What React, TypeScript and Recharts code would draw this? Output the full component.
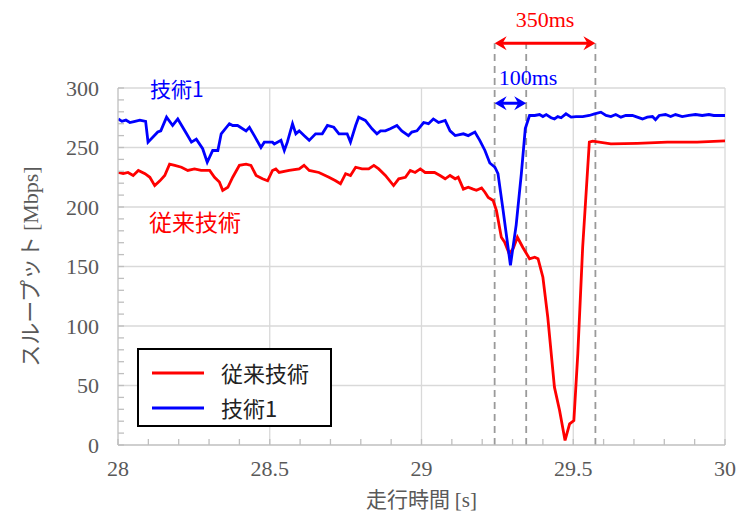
import { LineChart, Line, XAxis, YAxis, ReferenceLine, Legend } from 'recharts'

const SERIF = '"Liberation Serif", "Times New Roman", serif'
const JP = '"Noto Sans CJK JP", "Noto Sans", sans-serif'

// [time s, throughput Mbps]
const conventional: [number, number][] = [
  [28.001,229],[28.017,228],[28.033,229],[28.050,226.5],[28.067,230.7],[28.089,228],[28.105,225],[28.121,218],[28.138,222],[28.154,226.5],
  [28.170,236],[28.187,235],[28.209,233.4],[28.230,230.7],[28.252,232],[28.274,230.7],[28.302,230.7],[28.318,225],[28.334,221],[28.345,214],
  [28.362,216.6],[28.378,225],[28.400,235],[28.422,236],[28.438,235],[28.455,226.5],[28.476,223.7],[28.493,222],[28.509,230.7],[28.520,232],
  [28.531,229],[28.564,230.7],[28.597,232],[28.613,235],[28.630,230.7],[28.662,229],[28.695,225],[28.717,222],[28.733,219.5],[28.750,228],
  [28.766,226.5],[28.783,233.4],[28.804,232],[28.826,232],[28.843,235],[28.859,232],[28.881,226.5],[28.908,218],[28.925,223.7],[28.947,225],
  [28.963,230.7],[28.979,229],[28.996,232],[29.012,229],[29.043,229],[29.061,226.5],[29.078,223.7],[29.094,226.5],[29.111,223.7],[29.121,225],
  [29.138,215],[29.154,216.6],[29.170,215],[29.181,214],[29.198,216],[29.209,212.4],[29.220,208],[29.236,205.5],[29.247,197],[29.263,174.6],
  [29.274,170.4],[29.289,160.7],[29.302,165],[29.316,174.6],[29.334,166],[29.356,156.5],[29.373,157.8],[29.384,156.5],[29.400,141],[29.416,107.4],
  [29.438,48.6],[29.455,29],[29.473,3.8],[29.488,17.8],[29.502,20.6],[29.515,76.6],[29.531,166],[29.553,254.5],[29.564,255.3],[29.624,253],
  [29.711,253.5],[29.810,254.5],[29.908,254.5],[30.000,255.5],
]

const tech1: [number, number][] = [
  [28.001,274],[28.013,272],[28.026,273],[28.039,271],[28.056,272],[28.072,273],[28.091,272],[28.099,254.5],[28.131,263],[28.141,264],
  [28.160,275.5],[28.180,268.5],[28.197,274],[28.225,262],[28.242,254.5],[28.258,257],[28.279,249],[28.294,237.6],[28.312,247.5],[28.329,247.5],
  [28.340,261.5],[28.367,270],[28.378,268.5],[28.394,268.5],[28.422,264],[28.433,267],[28.449,260],[28.471,250],[28.482,254.5],[28.509,254.5],
  [28.515,253],[28.537,256],[28.548,247.5],[28.558,254.5],[28.575,270],[28.586,261.5],[28.597,264],[28.613,260],[28.630,256],[28.651,261.5],
  [28.673,261.5],[28.690,268.5],[28.711,267],[28.728,261.5],[28.755,261.5],[28.766,254.5],[28.783,268.5],[28.793,275.5],[28.815,272.7],[28.837,265.7],
  [28.853,261.5],[28.865,264],[28.881,264],[28.897,265.7],[28.919,268.5],[28.935,264],[28.957,260],[28.968,263],[28.985,264],[29.007,271],
  [29.023,270],[29.039,274],[29.056,271],[29.078,272.7],[29.094,264],[29.111,260],[29.138,261.5],[29.154,260],[29.176,263],[29.192,256],
  [29.209,247.5],[29.225,237],[29.242,233.4],[29.252,228],[29.269,197],[29.293,151],[29.312,185],[29.329,228],[29.342,266],[29.356,276.9],
  [29.373,276.9],[29.389,277.7],[29.400,276],[29.411,277.7],[29.427,275],[29.438,274],[29.449,276],[29.460,275],[29.476,278.3],[29.493,275.5],
  [29.509,276],[29.531,276],[29.553,276.9],[29.570,278.3],[29.591,279.7],[29.608,276.9],[29.624,276],[29.640,277.7],[29.657,275.5],[29.673,276.9],
  [29.695,276.9],[29.711,275.5],[29.728,274],[29.744,275.5],[29.761,276],[29.771,273.3],[29.783,276.9],[29.804,277.7],[29.821,276],[29.837,277.7],
  [29.859,276],[29.881,276.9],[29.903,277.7],[29.925,276.9],[29.947,277.7],[29.963,276.9],[29.990,276.9],[30.000,276.9],
]

const xTicks = [28,28.1,28.2,28.3,28.4,28.5,28.6,28.7,28.8,28.9,29,29.1,29.2,29.3,29.4,29.5,29.6,29.7,29.8,29.9,30]
const yTicks = [0,10,20,30,40,50,60,70,80,90,100,110,120,130,140,150,160,170,180,190,200,210,220,230,240,250,260,270,280,290,300]
const xGrid = [28.5, 29, 29.5, 30]
const yGrid = [50, 100, 150, 200, 250, 300]

// markers: dashed guides and the two interval arrows
const guideTimes = [29.241, 29.345, 29.573]
const guideTop = 337.6
const arrow350 = { from: 29.241, to: 29.573, y: 337.6, label: '350ms' }
const arrow100 = { from: 29.241, to: 29.345, y: 287.2, label: '100ms' }

const convData = conventional.map(([t, v]) => ({ t, v }))
const tech1Data = tech1.map(([t, v]) => ({ t, v }))

const isMajor = (v: number, step: number) => Math.abs(v / step - Math.round(v / step)) < 1e-6

const XTick = (p: any) => {
  const v = p.payload.value
  return (
    <g>
      <line x1={p.x} x2={p.x} y1={p.y} y2={p.y - 6} stroke="#bfbfbf" strokeWidth={1.3} />
      {isMajor(v, 0.5) && (
        <text x={p.x} y={p.y + 31} textAnchor="middle" fill="#595959" fontSize={22} style={{ fontFamily: SERIF }}>{v}</text>
      )}
    </g>
  )
}

const YTick = (p: any) => {
  const v = p.payload.value
  return (
    <g>
      <line x1={p.x} x2={p.x + 6} y1={p.y} y2={p.y} stroke="#bfbfbf" strokeWidth={1.3} />
      {isMajor(v, 50) && (
        <text x={p.x - 19} y={p.y} dy="0.35em" textAnchor="end" fill="#595959" fontSize={22} style={{ fontFamily: SERIF }}>{v}</text>
      )}
    </g>
  )
}

const YTitle = (p: any) => {
  const vb = p.viewBox
  const cx = 30
  const cy = vb.y + vb.height / 2
  return (
    <text x={cx} y={cy} transform={`rotate(-90, ${cx}, ${cy})`} textAnchor="middle" dy="0.35em" fill="#595959" fontSize={22}>
      <tspan style={{ fontFamily: JP }}>スループット </tspan><tspan style={{ fontFamily: SERIF }}>[Mbps]</tspan>
    </text>
  )
}

const XTitle = (p: any) => {
  const vb = p.viewBox
  return (
    <text x={vb.x + vb.width / 2} y={vb.y + 62} textAnchor="middle" fill="#595959" fontSize={21}>
      <tspan style={{ fontFamily: JP }}>走行時間 </tspan><tspan style={{ fontFamily: SERIF }}>[s]</tspan>
    </text>
  )
}

const arrowShape = (color: string, label: string, labelMode: 'middle' | 'start') => (p: any) => {
  const { x1, x2, y1 } = p
  const h = 7
  const l = 12
  return (
    <g>
      <line x1={x1 + 4} x2={x2 - 4} y1={y1} y2={y1} stroke={color} strokeWidth={3} />
      <polygon points={`${x1},${y1} ${x1 + l},${y1 - h} ${x1 + l - 4},${y1} ${x1 + l},${y1 + h}`} fill={color} />
      <polygon points={`${x2},${y1} ${x2 - l},${y1 - h} ${x2 - l + 4},${y1} ${x2 - l},${y1 + h}`} fill={color} />
      {labelMode === 'middle' ? (
        <text x={(x1 + x2) / 2} y={y1 - 16} textAnchor="middle" fill={color} fontSize={22} style={{ fontFamily: SERIF }}>{label}</text>
      ) : (
        <text x={x1 + 4} y={y1 - 18} textAnchor="start" fill={color} fontSize={22} style={{ fontFamily: SERIF }}>{label}</text>
      )}
    </g>
  )
}

const LegendBox = (props: any) => {
  const items = props.payload || []
  return (
    <div style={{ border: '2.5px solid #000', width: 195, height: 79, boxSizing: 'border-box', background: '#fff', paddingTop: 5 }}>
      {items.map((it: any) => (
        <div key={it.value} style={{ display: 'flex', alignItems: 'center', height: 35 }}>
          <svg width={82} height={10} style={{ flex: 'none' }}>
            <line x1={13} x2={65} y1={5} y2={5} stroke={it.color} strokeWidth={3} />
          </svg>
          <span style={{ fontFamily: JP, fontSize: 22, color: '#222', lineHeight: '35px' }}>{it.value}</span>
        </div>
      ))}
    </div>
  )
}

export default function App() {
  return (
    <div style={{ position: 'fixed', left: 0, top: 0, width: 737, height: 517, background: '#fff' }}>
      <LineChart width={737} height={517} margin={{ top: 88, right: 12, bottom: 22, left: 0 }}>
        {yGrid.map(y => <ReferenceLine key={'gy' + y} y={y} stroke="#d9d9d9" strokeWidth={1.3} />)}
        {xGrid.map(x => <ReferenceLine key={'gx' + x} x={x} stroke="#d9d9d9" strokeWidth={1.3} />)}
        <XAxis dataKey="t" type="number" domain={[28, 30]} ticks={xTicks} allowDataOverflow
          tick={<XTick />} tickLine={false} tickSize={0} tickMargin={0} height={50}
          axisLine={{ stroke: '#bfbfbf', strokeWidth: 1.3 }} interval={0} label={<XTitle />} />
        <YAxis type="number" domain={[0, 300]} ticks={yTicks} allowDataOverflow
          tick={<YTick />} tickLine={false} tickSize={0} tickMargin={0} width={118}
          axisLine={{ stroke: '#bfbfbf', strokeWidth: 1.3 }} interval={0} label={<YTitle />} />
        {guideTimes.map(x => (
          <ReferenceLine key={'g' + x} segment={[{ x, y: 0 }, { x, y: guideTop }]} ifOverflow="visible"
            stroke="#9a9a9a" strokeWidth={1.8} strokeDasharray="7 5" />
        ))}
        <ReferenceLine segment={[{ x: arrow350.from, y: arrow350.y }, { x: arrow350.to, y: arrow350.y }]} ifOverflow="visible"
          shape={arrowShape('#ff0000', arrow350.label, 'middle')} />
        <ReferenceLine segment={[{ x: arrow100.from, y: arrow100.y }, { x: arrow100.to, y: arrow100.y }]} ifOverflow="visible"
          shape={arrowShape('#0000ff', arrow100.label, 'start')} />
        <Line data={convData} dataKey="v" name="従来技術" stroke="#ff0000" strokeWidth={2.8} dot={false} type="linear" isAnimationActive={false} />
        <Line data={tech1Data} dataKey="v" name="技術1" stroke="#0000ff" strokeWidth={2.8} dot={false} type="linear" isAnimationActive={false} />
        <Legend layout="horizontal" verticalAlign="middle" align="center" content={<LegendBox />}
          wrapperStyle={{ position: 'absolute', left: 137, top: 348, width: 'auto' }} />
      </LineChart>
      <svg width={737} height={517} style={{ position: 'absolute', left: 0, top: 0, pointerEvents: 'none' }}>
        <text x={150} y={97} fill="#0000ff" fontSize={21} style={{ fontFamily: JP }}>技術1</text>
        <text x={149} y={231} fill="#ff0000" fontSize={23} style={{ fontFamily: JP }}>従来技術</text>
      </svg>
    </div>
  )
}
